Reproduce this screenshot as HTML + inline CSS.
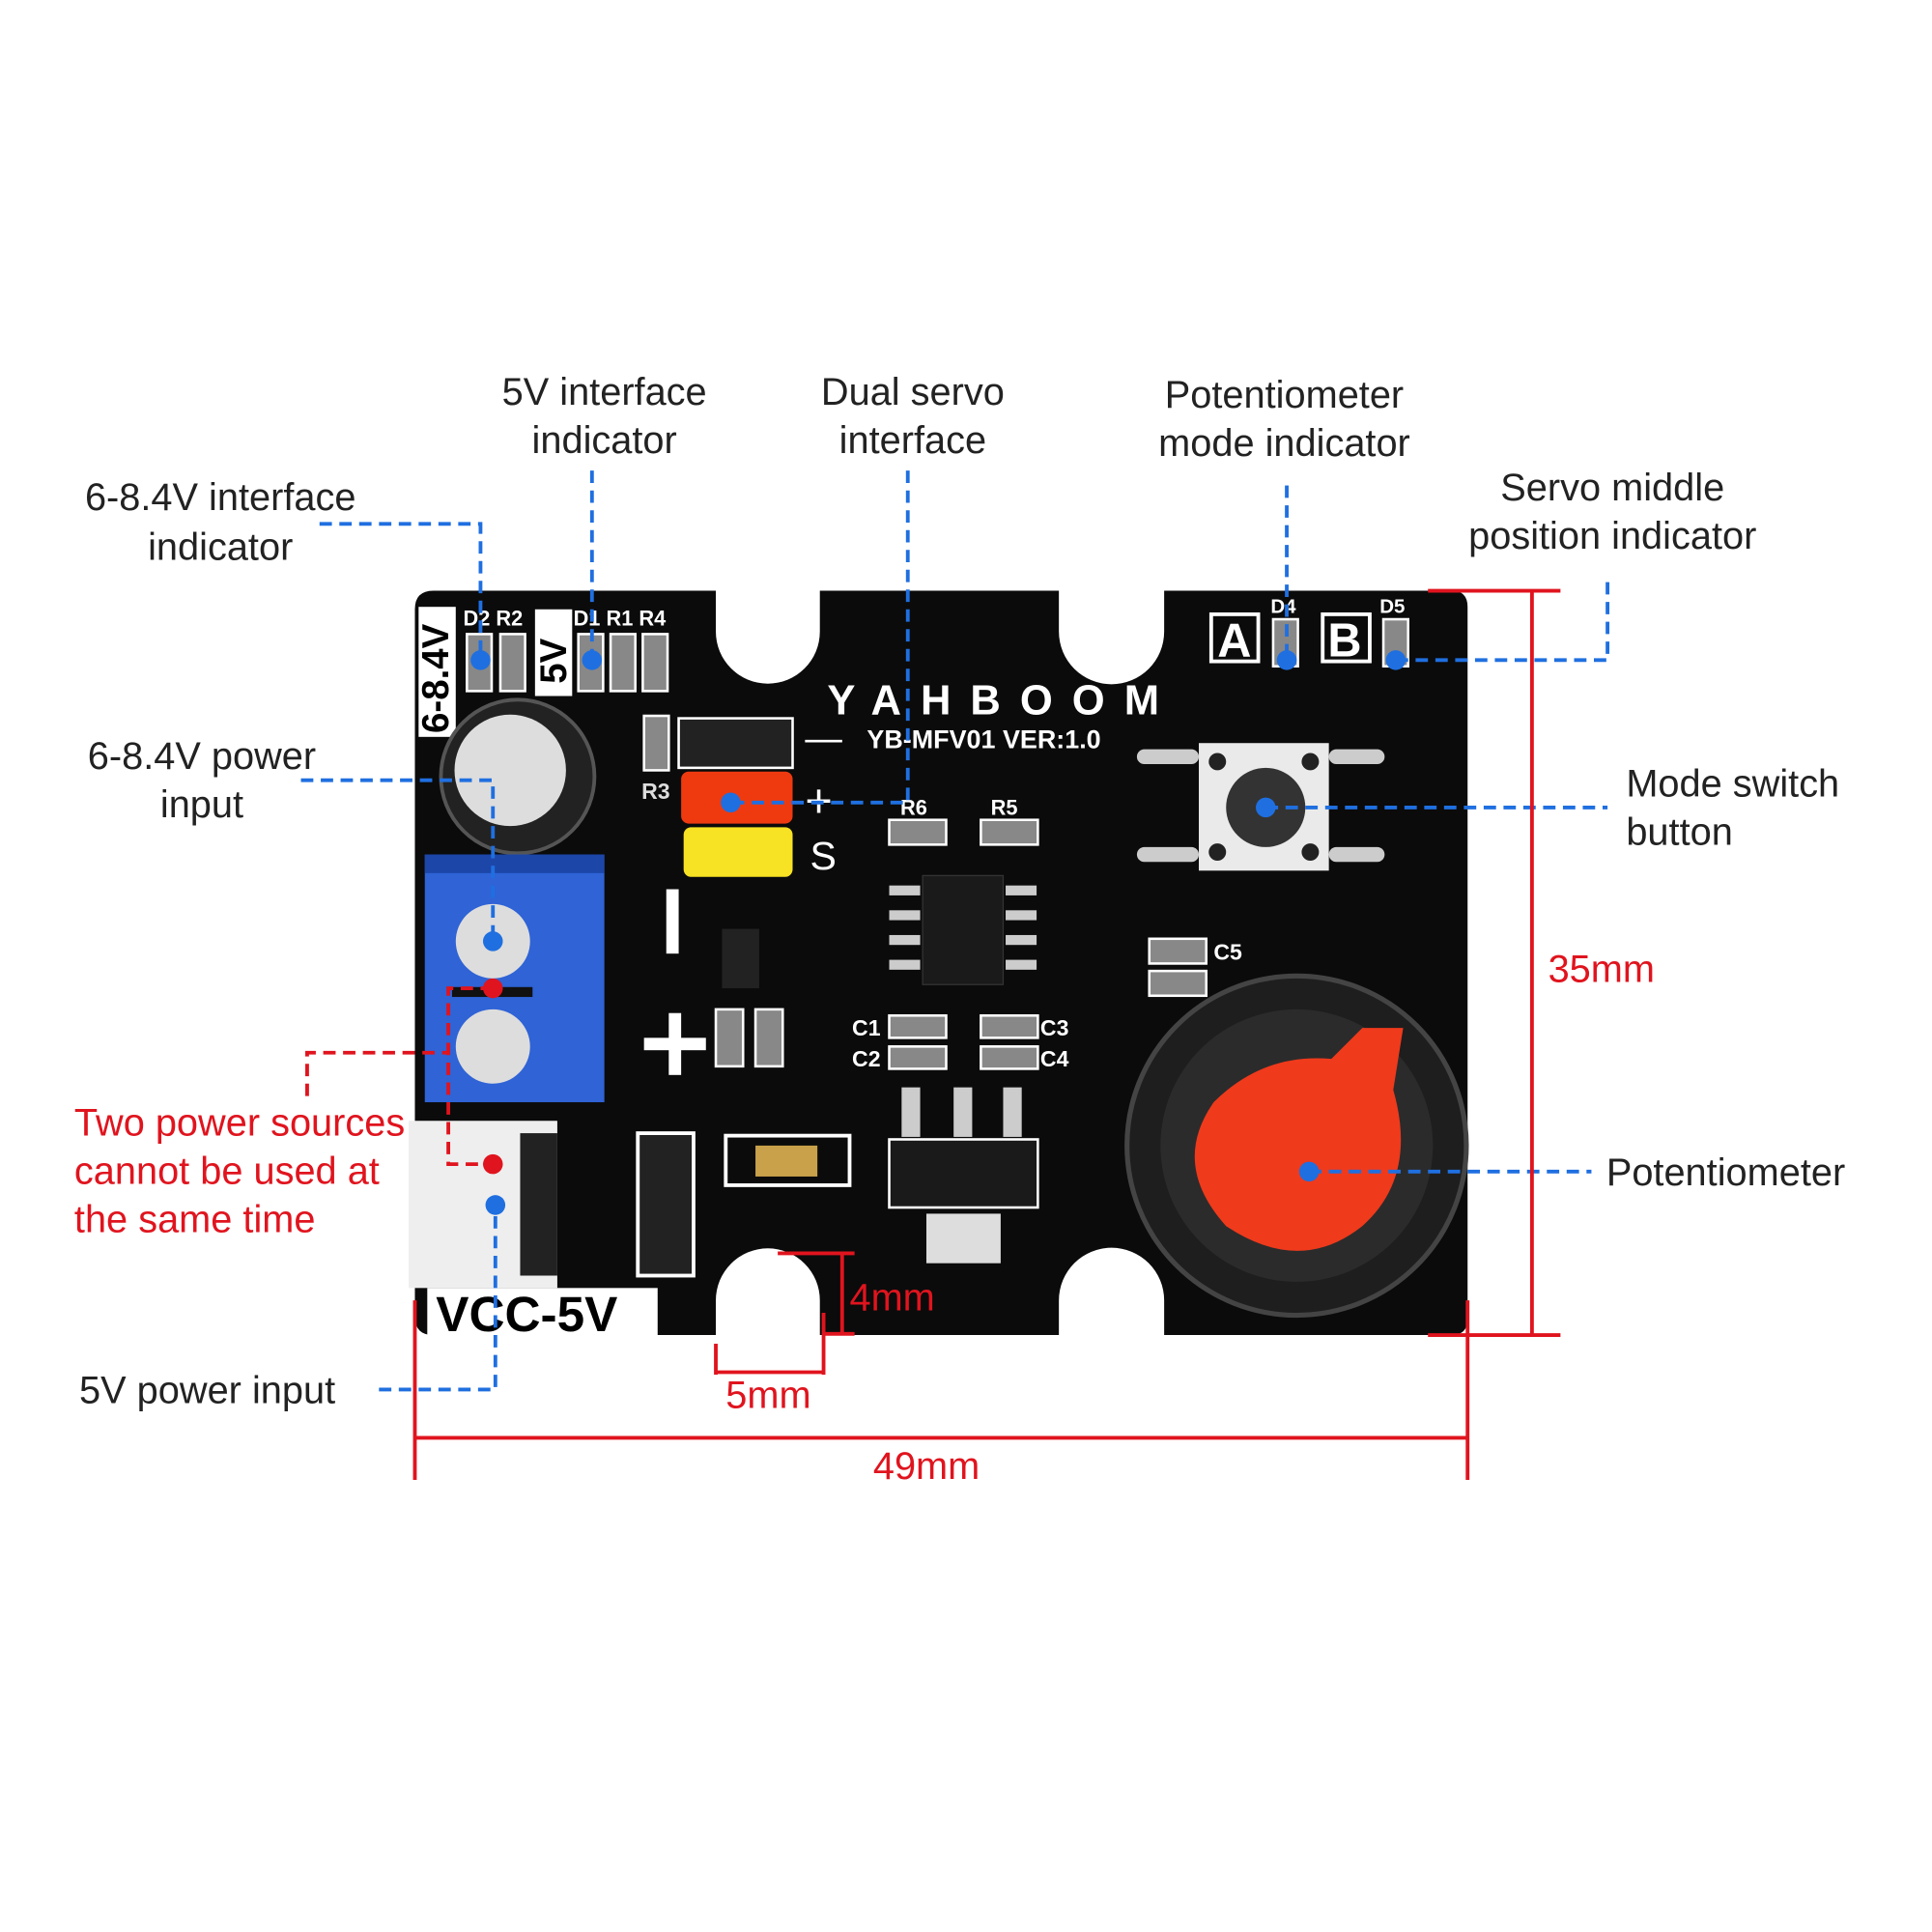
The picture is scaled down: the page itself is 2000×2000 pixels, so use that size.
<!DOCTYPE html>
<html><head><meta charset="utf-8"><style>
html,body{margin:0;padding:0;background:#fff;}
#wrap{width:2000px;height:2000px;overflow:hidden;position:relative;}
svg{position:absolute;left:0;top:0;}
text{font-family:"Liberation Sans",sans-serif;}
</style></head><body><div id="wrap">
<svg width="2000" height="2000" viewBox="0 0 1560 1560">
<rect width="1560" height="1560" fill="#fff"/>
<!-- board -->
<path d="M350,477 L578,477 L578,510 A42,42 0 0 0 662,510 L662,477 L855,477 L855,510 A42,42 0 0 0 940,510 L940,477 L1172,477 Q1185,477 1185,490 L1185,1065 Q1185,1078 1172,1078 L940,1078 L940,1050 A42,42 0 0 0 855,1050 L855,1078 L662,1078 L662,1050 A42,42 0 0 0 578,1050 L578,1078 L350,1078 Q335,1078 335,1063 L335,492 Q335,477 350,477 Z" fill="#0b0b0b"/>
<!-- labels on board -->
<rect x="338" y="490" width="30" height="105" fill="#fff"/>
<text x="362" y="592" transform="rotate(-90 362 592)" font-size="30" font-weight="bold" fill="#000">6-8.4V</text>
<rect x="432" y="492" width="30" height="70" fill="#fff"/>
<text x="457" y="552" transform="rotate(-90 457 552)" font-size="30" font-weight="bold" fill="#000">5V</text>
<text x="374" y="505" font-size="17" font-weight="bold" fill="#fff">D2 R2</text>
<text x="463" y="505" font-size="17" font-weight="bold" fill="#fff">D1 R1 R4</text>
<g fill="#888" stroke="#fff" stroke-width="2">
<rect x="377" y="512" width="20" height="46"/><rect x="404" y="512" width="20" height="46"/>
<rect x="467" y="512" width="20" height="46"/><rect x="493" y="512" width="20" height="46"/><rect x="519" y="512" width="20" height="46"/>
<rect x="520" y="578" width="20" height="44"/>
<rect x="718" y="662" width="46" height="20"/><rect x="792" y="662" width="46" height="20"/>
<rect x="578" y="815" width="22" height="46"/><rect x="610" y="815" width="22" height="46"/>
<rect x="718" y="820" width="46" height="18"/><rect x="718" y="845" width="46" height="18"/>
<rect x="792" y="820" width="46" height="18"/><rect x="792" y="845" width="46" height="18"/>
<rect x="928" y="758" width="46" height="20"/><rect x="928" y="784" width="46" height="20"/>
<rect x="1028" y="500" width="20" height="38"/><rect x="1117" y="500" width="20" height="38"/>
</g>
<text x="518" y="645" font-size="18" font-weight="bold" fill="#ddd">R3</text>
<text x="727" y="658" font-size="17" font-weight="bold" fill="#fff">R6</text>
<text x="800" y="658" font-size="17" font-weight="bold" fill="#fff">R5</text>
<text x="688" y="836" font-size="18" font-weight="bold" fill="#fff">C1</text>
<text x="688" y="861" font-size="18" font-weight="bold" fill="#fff">C2</text>
<text x="840" y="836" font-size="18" font-weight="bold" fill="#fff">C3</text>
<text x="840" y="861" font-size="18" font-weight="bold" fill="#fff">C4</text>
<text x="980" y="775" font-size="18" font-weight="bold" fill="#fff">C5</text>
<text x="1026" y="495" font-size="16" font-weight="bold" fill="#fff">D4</text>
<text x="1114" y="495" font-size="16" font-weight="bold" fill="#fff">D5</text>
<rect x="978" y="496" width="38" height="38" fill="none" stroke="#fff" stroke-width="3"/>
<text x="983" y="530" font-size="38" font-weight="bold" fill="#fff">A</text>
<rect x="1068" y="496" width="38" height="38" fill="none" stroke="#fff" stroke-width="3"/>
<text x="1072" y="530" font-size="38" font-weight="bold" fill="#fff">B</text>
<text x="668" y="577" font-size="34" font-weight="bold" fill="#fff" textLength="268">YAHBOOM</text>
<text x="700" y="604" font-size="21" font-weight="bold" fill="#fff">YB-MFV01  VER:1.0</text>
<text x="650" y="606" font-size="30" fill="#fff">—</text>
<text x="650" y="660" font-size="38" fill="#fff">+</text>
<text x="654" y="702" font-size="32" fill="#fff">S</text>
<rect x="538" y="718" width="10" height="52" fill="#fff"/>
<rect x="520" y="838" width="50" height="10" fill="#fff"/><rect x="540" y="818" width="10" height="50" fill="#fff"/>
<!-- capacitor -->
<circle cx="418" cy="627" r="62" fill="#222" stroke="#555" stroke-width="3"/>
<circle cx="412" cy="622" r="45" fill="#ddd"/>
<!-- terminal block -->
<rect x="343" y="690" width="145" height="200" fill="#2f63d6"/>
<rect x="343" y="690" width="145" height="15" fill="#1c46a8"/>
<circle cx="398" cy="760" r="30" fill="#ddd"/><circle cx="398" cy="845" r="30" fill="#ddd"/>
<rect x="365" y="797" width="65" height="8" fill="#111"/>
<!-- USB -->
<rect x="330" y="905" width="120" height="135" fill="#eee"/>
<rect x="420" y="915" width="30" height="115" fill="#222"/>
<rect x="515" y="915" width="45" height="115" fill="#222" stroke="#fff" stroke-width="3"/>
<!-- headers -->
<rect x="548" y="580" width="92" height="40" fill="#222" stroke="#fff" stroke-width="2"/>
<rect x="550" y="623" width="90" height="42" rx="6" fill="#ef3a10"/>
<rect x="552" y="668" width="88" height="40" rx="6" fill="#f7e224"/>
<!-- misc parts -->
<rect x="583" y="750" width="30" height="48" fill="#222"/>
<rect x="586" y="917" width="100" height="40" fill="none" stroke="#fff" stroke-width="3"/>
<rect x="610" y="925" width="50" height="25" fill="#c9a14a"/>
<rect x="745" y="707" width="65" height="88" fill="#1a1a1a" stroke="#333"/>
<g fill="#ccc"><rect x="718" y="715" width="25" height="8"/><rect x="718" y="735" width="25" height="8"/><rect x="718" y="755" width="25" height="8"/><rect x="718" y="775" width="25" height="8"/><rect x="812" y="715" width="25" height="8"/><rect x="812" y="735" width="25" height="8"/><rect x="812" y="755" width="25" height="8"/><rect x="812" y="775" width="25" height="8"/>
<rect x="728" y="878" width="15" height="40"/><rect x="770" y="878" width="15" height="40"/><rect x="810" y="878" width="15" height="40"/></g>
<rect x="718" y="920" width="120" height="55" fill="#1a1a1a" stroke="#fff" stroke-width="2"/>
<rect x="748" y="980" width="60" height="40" fill="#ddd"/>
<!-- button -->
<g fill="#ccc"><rect x="918" y="605" width="50" height="12" rx="6"/><rect x="1073" y="605" width="45" height="12" rx="6"/><rect x="918" y="684" width="50" height="12" rx="6"/><rect x="1073" y="684" width="45" height="12" rx="6"/></g>
<rect x="968" y="600" width="105" height="103" fill="#eaeaea"/>
<circle cx="1022" cy="652" r="32" fill="#333"/>
<g fill="#222"><circle cx="983" cy="615" r="7"/><circle cx="1058" cy="615" r="7"/><circle cx="983" cy="688" r="7"/><circle cx="1058" cy="688" r="7"/></g>
<!-- knob -->
<circle cx="1047" cy="925" r="137" fill="#1e1e1e" stroke="#444" stroke-width="4"/>
<circle cx="1047" cy="925" r="110" fill="#2b2b2b"/>
<path d="M1100,830 L1133,830 L1125,880 Q1145,950 1100,990 Q1050,1030 990,990 Q945,940 980,890 Q1020,850 1075,855 Z" fill="#ef3a1c"/>
<!-- VCC-5V -->
<rect x="345" y="1040" width="186" height="38" fill="#fff"/>
<text x="352" y="1075" font-size="40" font-weight="bold" fill="#000">VCC-5V</text>
<!-- blue dashed lines -->
<g stroke="#1f6fe0" stroke-width="3" stroke-dasharray="10,6" fill="none">
<polyline points="258,423 388,423 388,533"/>
<polyline points="478,380 478,533"/>
<polyline points="733,380 733,648 590,648"/>
<polyline points="1039,392 1039,533"/>
<polyline points="1298,470 1298,533 1127,533"/>
<polyline points="243,630 398,630 398,760"/>
<polyline points="1022,652 1298,652"/>
<polyline points="1057,946 1285,946"/>
<polyline points="306,1122 400,1122 400,973"/>
</g>
<g fill="#1f6fe0"><circle cx="388" cy="533" r="8"/><circle cx="478" cy="533" r="8"/><circle cx="590" cy="648" r="8"/><circle cx="1039" cy="533" r="8"/><circle cx="1127" cy="533" r="8"/><circle cx="398" cy="760" r="8"/><circle cx="1022" cy="652" r="8"/><circle cx="1057" cy="946" r="8"/><circle cx="400" cy="973" r="8"/></g>
<!-- red dashed -->
<g stroke="#e0141e" stroke-width="3" stroke-dasharray="10,6" fill="none">
<polyline points="248,885 248,850 362,850"/>
<polyline points="398,798 362,798 362,940 398,940"/>
</g>
<g fill="#e0141e"><circle cx="398" cy="798" r="8"/><circle cx="398" cy="940" r="8"/></g>
<!-- dimensions -->
<g stroke="#e0141e" stroke-width="3" fill="none">
<line x1="1237" y1="477" x2="1237" y2="1078"/><line x1="1153" y1="477" x2="1260" y2="477"/><line x1="1153" y1="1078" x2="1260" y2="1078"/>
<line x1="335" y1="1161" x2="1185" y2="1161"/><line x1="335" y1="1050" x2="335" y2="1195"/><line x1="1185" y1="1050" x2="1185" y2="1195"/>
<line x1="578" y1="1108" x2="665" y2="1108"/><line x1="578" y1="1085" x2="578" y2="1110"/><line x1="665" y1="1060" x2="665" y2="1110"/>
<line x1="680" y1="1012" x2="680" y2="1077"/><line x1="628" y1="1012" x2="690" y2="1012"/><line x1="666" y1="1077" x2="690" y2="1077"/>
</g>
<g font-size="31" fill="#e0141e">
<text x="1250" y="793">35mm</text><text x="686" y="1058">4mm</text><text x="586" y="1137">5mm</text><text x="705" y="1194">49mm</text>
<text x="60" y="917">Two power sources</text><text x="60" y="956">cannot be used at</text><text x="60" y="995">the same time</text>
</g>
<g font-size="31" fill="#222" text-anchor="middle">
<text x="178" y="412">6-8.4V interface</text><text x="178" y="452">indicator</text>
<text x="488" y="327">5V interface</text><text x="488" y="366">indicator</text>
<text x="737" y="327">Dual servo</text><text x="737" y="366">interface</text>
<text x="1037" y="329">Potentiometer</text><text x="1037" y="368">mode indicator</text>
<text x="1302" y="404">Servo middle</text><text x="1302" y="443">position indicator</text>
<text x="163" y="621">6-8.4V power</text><text x="163" y="660">input</text>
</g>
<g font-size="31" fill="#222">
<text x="1313" y="643">Mode switch</text><text x="1313" y="682">button</text>
<text x="1297" y="957">Potentiometer</text>
<text x="64" y="1133">5V power input</text>
</g>
</svg>
</div></body></html>
